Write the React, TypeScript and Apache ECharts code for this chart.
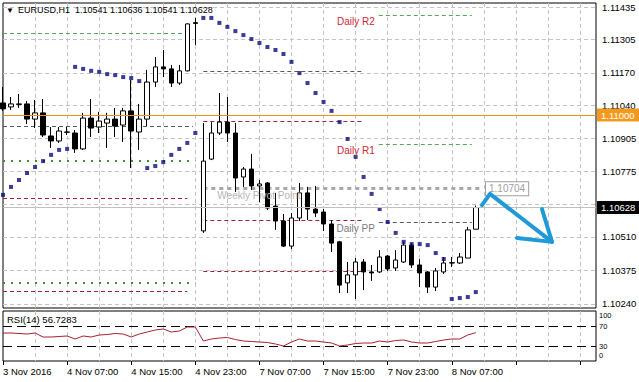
import React, { useEffect, useRef } from "react";
import * as echarts from "echarts";

// ---------- data (EURUSD H1, bar 0 = 3 Nov 23:00) ----------
const opens = [1.11049,1.11033,1.11043,1.11045,1.10984,1.11009,1.10916,1.10896,1.10932,1.10928,
 1.10864,1.10988,1.10952,1.10968,1.10984,1.1096,1.11017,1.10932,1.10984,1.11133,
 1.11194,1.11186,1.11129,1.11178,1.11372,1.10534,1.10823,1.10928,1.10972,1.10928,
 1.10751,1.10783,1.10715,1.10727,1.10634,1.10574,1.10473,1.10586,1.10687,1.10622,
 1.1061,1.10562,1.1049,1.10325,1.10357,1.10409,1.10369,1.10369,1.10433,1.10385,
 1.10409,1.10477,1.10397,1.10369,1.10308,1.10369,1.10405,1.10405,1.10425,1.10541];
const highs = [1.11113,1.11073,1.11085,1.11057,1.11061,1.11065,1.10952,1.10952,1.10952,1.1094,
 1.11009,1.11065,1.11013,1.11009,1.11029,1.11029,1.11141,1.11045,1.11182,1.11234,
 1.11262,1.11202,1.11202,1.11369,1.11391,1.10968,1.10972,1.11089,1.11073,1.10968,
 1.10791,1.10844,1.10739,1.10731,1.10687,1.10602,1.10606,1.10727,1.10711,1.10715,
 1.10622,1.10578,1.10494,1.10409,1.10425,1.10421,1.10397,1.10457,1.10437,1.10457,
 1.1049,1.10485,1.10421,1.10373,1.10385,1.10429,1.10429,1.10445,1.1055,1.10636];
const lows = [1.11017,1.11021,1.11029,1.10964,1.10948,1.10912,1.10868,1.10888,1.1092,1.10848,
 1.1086,1.10912,1.10928,1.10868,1.10912,1.10892,1.10787,1.1086,1.10956,1.11113,
 1.11153,1.11113,1.11121,1.11176,1.11282,1.10526,1.10819,1.1092,1.10892,1.10691,
 1.10711,1.10699,1.1065,1.10618,1.10538,1.10469,1.10461,1.10574,1.10578,1.1059,
 1.10534,1.10449,1.10284,1.10284,1.1026,1.10296,1.10333,1.10365,1.10373,1.10373,
 1.10405,1.10385,1.10308,1.10284,1.10292,1.10361,1.10389,1.10401,1.10425,1.10541];
const closes = [1.11025,1.11045,1.11045,1.10984,1.11009,1.1092,1.10896,1.10936,1.10931,1.10864,
 1.10988,1.10948,1.10976,1.10984,1.10956,1.11017,1.10936,1.10984,1.11133,1.11194,
 1.11186,1.11129,1.11178,1.11367,1.11369,1.10815,1.10928,1.10972,1.10928,1.10747,
 1.10783,1.10715,1.10723,1.10626,1.10574,1.10473,1.10586,1.10687,1.10622,1.10606,
 1.10562,1.10485,1.10316,1.10357,1.10409,1.10369,1.10365,1.10429,1.10381,1.10417,
 1.10477,1.10397,1.10365,1.10308,1.10373,1.10405,1.10406,1.10429,1.10538,1.10628];
const sar = [1.10679,1.10711,1.10739,1.10767,1.10791,1.10815,1.1084,1.1086,1.10864,1.11194,
 1.11186,1.11178,1.11174,1.11165,1.11161,1.11153,1.11149,1.11137,1.10787,1.10795,
 1.10811,1.1084,1.10864,1.10888,1.10928,1.11391,1.11391,1.11371,1.11355,1.11338,
 1.11322,1.11306,1.1129,1.11274,1.11262,1.11246,1.11214,1.11169,1.11129,1.11089,
 1.11053,1.11017,1.10972,1.10904,1.10832,1.10751,1.10683,1.10622,1.1057,1.10526,
 1.1049,1.10481,1.10481,1.10477,1.10445,1.10421,1.1026,1.10264,1.10268,1.10288];
const rsi = [56,56,55,54,56,48,48,49,50,44, 50,48,52,53,55,54,48,54,58,62,
 64,58,60,68,68,40,44,46,47,43, 40,39,38,37,34,30,38,44,40,40,
 38,36,30,32,35,36,36,40,38,41, 42,38,36,36,39,42,44,44,52,56.7283];

const priceTicks = [1.11435, 1.11305, 1.1117, 1.1104, 1.10905, 1.10775, 1.1064, 1.1051, 1.10375, 1.1024];
const hiddenTickLabels = [1.1064]; // covered by the last-price tag in the reference
const timeTickLabels = ["3 Nov 2016", "4 Nov 07:00", "4 Nov 15:00", "4 Nov 23:00", "7 Nov 07:00", "7 Nov 15:00", "7 Nov 23:00", "8 Nov 07:00"];
const rsiLevels = [70, 30];
const rsiBounds = [100, 0];
const headerText = "EURUSD,H1  1.10541 1.10636 1.10541 1.10628";
const rsiText = "RSI(14) 56.7283";

// pivot segments: [startBar, endBar, price]
const greenDashed = [[0, 22.8, 1.1133], [46.9, 58.5, 1.11403], [46.9, 58.5, 1.10884]];
const greenDotted = [[0, 24, 1.10815], [0, 24, 1.10325]];
const redDashed = [[0, 23, 1.10667], [0, 23, 1.10292], [25, 44.9, 1.10976], [25, 44.9, 1.10578], [25, 44.9, 1.10373]];
const grayDashed = [[0, 23.7, 1.10956], [25, 44.9, 1.11178], [46.9, 58.5, 1.1057]];
const weeklyPivot = [25, 59.9, 1.10704];
const roundLevel = 1.11;
const lastPrice = 1.10628;
const dailyLabels = [
  { text: "Daily R2", bar: 46.9, price: 1.11403, kind: "r" },
  { text: "Daily R1", bar: 46.9, price: 1.10884, kind: "r" },
  { text: "Daily PP", bar: 46.9, price: 1.1057, kind: "p" },
];
const weeklyLabel = { text: "Weekly Pivot Point", bar: 25, price: 1.10704 };
const arrowShaft = [[59.77, 1.10638], [60.77, 1.10683], [68.51, 1.1049]];
const arrowHead = [[64.14, 1.10506], [68.51, 1.1049], [67.26, 1.10622]];

const SLOTS = 75;

export default function App() {
  const ref = useRef<HTMLDivElement>(null);
  useEffect(() => {
    const chart = echarts.init(ref.current!, null, { renderer: "svg" });
    const FONT = "'Liberation Sans', Arial, sans-serif";
    const cats = Array.from({ length: SLOTS }, (_, i) => String(i));
    const seg = (s: number[], color: string, type: any, width: number, extra: any = {}) => {
      const ls = { color, type, width };
      return [{ coord: [s[0], s[2]], lineStyle: ls, ...extra }, { coord: [s[1], s[2]], lineStyle: ls, ...extra }];
    };
    const D = [4, 3];
    const gridSplit = { show: true, interval: (i: number) => i % 4 === 0 && i > 0, lineStyle: { color: "#c4c4c4", type: [4, 3], width: 1 } };
    const RSI_FS = 7.5;

    const option: any = {
      animation: false,
      textStyle: { fontFamily: FONT },
      grid: [
        { left: 3, top: 3, width: 593, height: 305, show: true, borderColor: "#000", borderWidth: 1, backgroundColor: "#fff" },
        { left: 3, top: 311, width: 593, height: 50, show: true, borderColor: "#000", borderWidth: 1, backgroundColor: "#fff" },
      ],
      xAxis: [
        { type: "category", gridIndex: 0, data: cats, boundaryGap: false, axisLine: { show: false }, axisTick: { show: false }, axisLabel: { show: false }, splitLine: gridSplit },
        { type: "category", gridIndex: 1, data: cats, boundaryGap: false, axisLine: { show: false },
          axisTick: { show: true, interval: (i: number) => i % 8 === 0, length: 4, lineStyle: { color: "#000" } },
          axisLabel: { show: true, interval: (i: number) => i % 8 === 0, align: "left", margin: 5, color: "#000", fontSize: 9.5, fontFamily: FONT,
            formatter: (_v: string, i: number) => (i % 8 === 0 && timeTickLabels[i / 8]) ? timeTickLabels[i / 8] : "" },
          splitLine: gridSplit },
        { type: "value", gridIndex: 0, min: 0, max: SLOTS - 1, show: false },
      ],
      yAxis: [
        { type: "value", gridIndex: 0, min: 1.10223905, max: 1.11451095, show: false, splitLine: { show: false } },
        { type: "value", gridIndex: 1, min: 0, max: 100, show: false, splitLine: { show: false } },
      ],
      series: [
        { // 0: price grid lines + labels
          type: "line", xAxisIndex: 2, yAxisIndex: 0, data: [[0, priceTicks[0]]], symbol: "none", lineStyle: { width: 0 }, silent: true, clip: false,
          markLine: {
            z: 1, silent: true, symbol: ["none", "none"], animation: false, precision: 6,
            lineStyle: { color: "#c4c4c4", type: [4, 3], width: 1 },
            label: { show: true, position: "end", distance: 6, color: "#000", fontSize: 9.5, fontFamily: FONT },
            data: priceTicks.map((v) => ({
              yAxis: v,
              label: hiddenTickLabels.includes(v) ? { show: false } : { formatter: v.toFixed(5), padding: [0, 0, 3, 0] },
            })),
          },
        },
        { // 1: pivot segments
          type: "line", xAxisIndex: 2, yAxisIndex: 0, data: [[0, weeklyPivot[2]]], symbol: "none", lineStyle: { width: 0 }, silent: true, clip: false,
          markLine: {
            z: 1, silent: true, symbol: ["none", "none"], animation: false, precision: 6, label: { show: false },
            data: [
              ...greenDashed.map((s) => seg(s, "#55a855", D, 1)),
              ...greenDotted.map((s) => seg(s, "#3d8f3d", [2, 6], 2)),
              ...redDashed.map((s) => seg(s, "#a3202c", D, 1)),
              ...grayDashed.map((s) => seg(s, "#5a5a5a", D, 1)),
              seg(weeklyPivot, "#a8a8a8", [4, 4], 3, {
                label: { show: true, position: "end", distance: 3, formatter: weeklyPivot[2].toFixed(5), color: "#a0a0a0", fontSize: 10,
                  fontFamily: FONT, borderColor: "#a0a0a0", borderWidth: 1, padding: [2, 3, 1, 3], backgroundColor: "#fff" },
              }),
            ],
          },
        },
        { // 2: candles
          type: "candlestick", xAxisIndex: 0, yAxisIndex: 0, z: 2, barWidth: 5,
          data: opens.map((o, i) => [o, closes[i], lows[i], highs[i]]),
          itemStyle: { color: "#fff", color0: "#000", borderColor: "#000", borderColor0: "#000", borderColorDoji: "#000", borderWidth: 1 },
        },
        { // 3: parabolic SAR
          type: "scatter", xAxisIndex: 0, yAxisIndex: 0, z: 3, symbol: "rect", symbolSize: 4,
          data: sar.map((v, i) => [i, v]), itemStyle: { color: "#0b0b7a" },
        },
        { // 4: price tags
          type: "line", xAxisIndex: 2, yAxisIndex: 0, data: [[0, roundLevel]], symbol: "none", lineStyle: { width: 0 }, silent: true, clip: false,
          markLine: {
            z: 4, silent: true, symbol: ["none", "none"], animation: false, precision: 6,
            data: [
              { yAxis: lastPrice, lineStyle: { color: "#c0c0c0", type: "solid", width: 1 },
                label: { show: true, position: "end", distance: 1, formatter: lastPrice.toFixed(5), color: "#fff", backgroundColor: "#000", padding: [2, 5, 1, 4], fontSize: 9.5, fontFamily: FONT } },
              { yAxis: roundLevel, lineStyle: { color: "#e8921c", type: "solid", width: 1.2 },
                label: { show: true, position: "end", distance: 1, formatter: roundLevel.toFixed(5), color: "#fff", backgroundColor: "#f39a1e", padding: [2, 5, 1, 4], fontSize: 9.5, fontFamily: FONT } },
            ],
          },
        },
        { // 5: arrow annotation
          type: "custom", xAxisIndex: 2, yAxisIndex: 0, z: 10, silent: true, data: [arrowShaft[0]],
          renderItem: (params: any, api: any) => {
            if (params.dataIndex !== 0) return null;
            const st = { stroke: "#1f9ad6", lineWidth: 4, fill: null, lineJoin: "round", lineCap: "round" };
            return { type: "group", children: [
              { type: "polyline", shape: { points: arrowShaft.map((p) => api.coord(p)) }, style: st },
              { type: "polyline", shape: { points: arrowHead.map((p) => api.coord(p)) }, style: st },
            ] };
          },
        },
        { // 6: RSI
          type: "line", xAxisIndex: 1, yAxisIndex: 1, data: rsi, symbol: "none", z: 3,
          lineStyle: { color: "#a8202e", width: 1 },
          markLine: {
            z: 1, silent: true, symbol: ["none", "none"], animation: false,
            lineStyle: { color: "#000", type: [9, 5], width: 1 },
            label: { show: true, position: "end", distance: 3, color: "#000", fontSize: RSI_FS, fontFamily: FONT },
            data: rsiLevels.map((v) => ({ yAxis: v, label: { formatter: String(v), padding: v > 50 ? [0, 0, 2, 0] : 0 } })),
          },
        },
      ],
    };
    chart.setOption(option);

    const px = (bar: number, price: number) => chart.convertToPixel({ seriesIndex: 1 }, [bar, price]) as number[];
    const rp = (v: number) => chart.convertToPixel({ seriesIndex: 6 }, [0, v]) as number[];
    const txt = (x: number, y: number, text: string, fill: string, size: number, align = "left", valign = "middle") => ({
      type: "text", x, y, z: 20, silent: true,
      style: { text, fill, fontSize: size, fontFamily: FONT, align, verticalAlign: valign },
    });
    const graphic: any[] = [
      txt(6, 10, "▼", "#000", 8, "left", "middle"),
      txt(18, 10, headerText, "#000", 9),
      txt(7, 319, rsiText, "#000", 9.5),
    ];
    dailyLabels.forEach((l) => {
      const p = px(l.bar, l.price);
      graphic.push(txt(p[0] - 4, p[1] + 7, l.text, l.kind === "r" ? "#c8283a" : "#7c7c7c", 10, "right"));
    });
    const wp = px(weeklyLabel.bar, weeklyLabel.price);
    graphic.push(txt(wp[0] + 14, wp[1] + 7, weeklyLabel.text, "#b4b4b4", 10));
    rsiBounds.forEach((v) => {
      const p = rp(v);
      graphic.push(txt(599, p[1] + (v > 50 ? 4.5 : -5.5), String(v), "#000", RSI_FS));
    });
    chart.setOption({ graphic });

    return () => chart.dispose();
  }, []);
  return <div ref={ref} style={{ position: "fixed", left: 0, top: 0, width: 639, height: 382, background: "#fff" }} />;
}
